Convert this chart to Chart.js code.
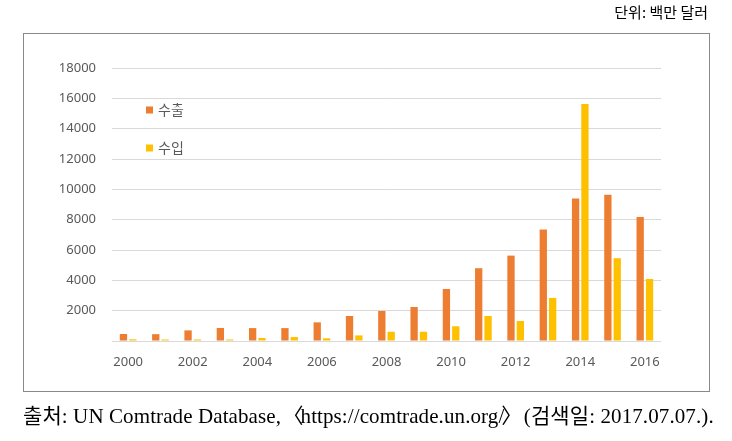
<!DOCTYPE html>
<html><head><meta charset="utf-8">
<script src="https://cdn.jsdelivr.net/npm/chart.js@4"></script>
<style>
html,body{margin:0;padding:0;background:#fff;}
body{width:732px;height:441px;position:relative;overflow:hidden;}
#frame{position:absolute;left:23px;top:33px;width:685px;height:357px;border:1px solid #898989;}
#cv{position:absolute;left:0;top:0;}
#unit{position:absolute;right:24px;top:1px;font:15px "Noto Sans CJK KR",sans-serif;color:#000;}
#src{position:absolute;left:23px;top:406px;font:21px "Liberation Serif","Noto Sans CJK KR",serif;line-height:1;color:#000;white-space:nowrap;letter-spacing:0.1px;}
.br{display:inline-block;}
.bl{margin-left:-4px;margin-right:-3px;}
.bg{margin-left:-3px;margin-right:-4px;}
</style></head>
<body>
<div id="frame"></div>
<canvas id="cv" width="732" height="441"></canvas>
<div id="unit">단위: 백만 달러</div>
<div id="src">출처: UN Comtrade Database, <span class="bl">〈</span>https://comtrade.un.org/<span class="bg">〉</span> (검색일: 2017.07.07.).</div>
<script>
const years = ['2000','2001','2002','2003','2004','2005','2006','2007','2008','2009','2010','2011','2012','2013','2014','2015','2016'];
const exportsVals = [460,450,700,860,850,850,1230,1650,1980,2240,3430,4800,5630,7350,9390,9640,8180];
const importsVals = [110,100,100,100,200,260,180,370,610,610,970,1650,1320,2840,15620,5460,4090];
const seriesNames = ['수출','수입'];
const yTicks = [0,2000,4000,6000,8000,10000,12000,14000,16000,18000];

const legendPlugin = {
  id:'inLegend',
  afterDraw(chart){
    const ctx = chart.ctx;
    ctx.save();
    ctx.font = '14px "Noto Sans CJK KR", sans-serif';
    ctx.textBaseline = 'middle';
    chart.data.datasets.forEach((ds,i)=>{
      const y = 110 + i*38;
      ctx.fillStyle = ds.backgroundColor;
      ctx.fillRect(146, y-3.5, 7, 7);
      ctx.fillStyle = '#595959';
      ctx.fillText(ds.label, 158, y);
    });
    ctx.restore();
  }
};

new Chart(document.getElementById('cv'), {
  type:'bar',
  data:{labels:years, datasets:[
    {label:seriesNames[0], data:exportsVals, backgroundColor:'#ED7D31'},
    {label:seriesNames[1], data:importsVals, backgroundColor:'#FFC000'}
  ]},
  options:{
    responsive:false, animation:false,
    layout:{padding:{left:0,right:71,top:68,bottom:0}},
    datasets:{bar:{categoryPercentage:0.58,barPercentage:0.78}},
    plugins:{legend:{display:false},tooltip:{enabled:false}},
    scales:{
      x:{
        grid:{display:false,drawTicks:false},
        border:{display:false},
        ticks:{color:'#595959',font:{family:'"Noto Sans", sans-serif',size:13},padding:13,maxRotation:0,autoSkip:false,
          callback:function(v,i){return i%2===0?years[i]:'';}},
        afterFit(s){s.height=100;}
      },
      y:{
        min:0,max:18000,
        afterBuildTicks(s){s.ticks=yTicks.map(v=>({value:v}));},
        grid:{color:'#D9D9D9',lineWidth:1,drawTicks:false},
        border:{display:false},
        ticks:{color:'#595959',font:{family:'"Noto Sans", sans-serif',size:13},padding:16,
          callback:v=>v===0?'':String(v)},
        afterFit(s){s.width=112;}
      }
    }
  },
  plugins:[legendPlugin]
});
</script>
</body></html>
